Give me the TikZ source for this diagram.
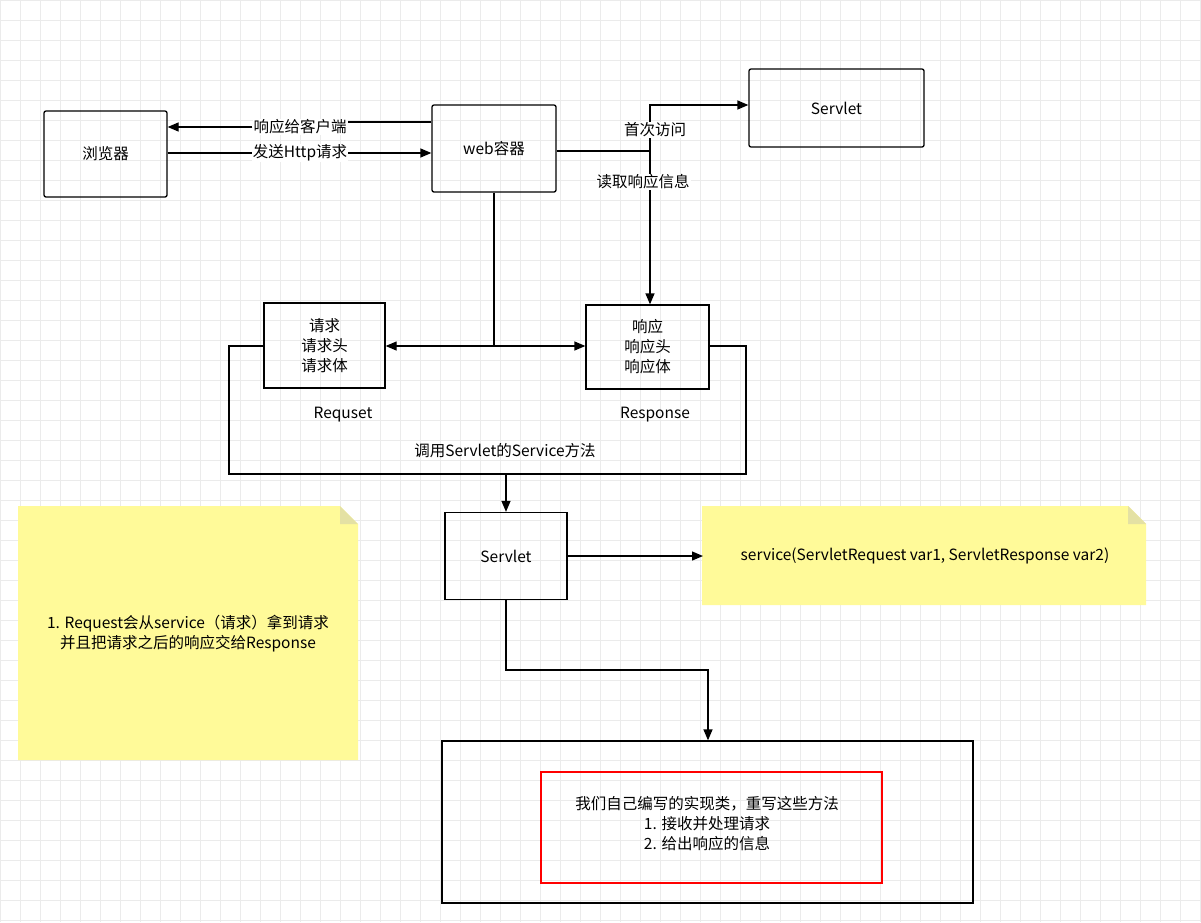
\documentclass[tikz,border=0pt]{standalone}
\usepackage{fontspec}
\setmainfont{Noto Sans CJK SC}
\usetikzlibrary{arrows.meta}
\begin{document}
\begin{tikzpicture}[x=1pt,y=-1pt,font=\fontsize{15.5}{20}\selectfont,
  box/.style={draw,line width=1.3pt,rounded corners=2pt,align=center,inner sep=0},
  link/.style={line width=1.3pt,-{Triangle[length=11pt,width=9pt]}},
  line/.style={line width=1.3pt},
  lbl/.style={fill=white,inner sep=1pt},
  note/.style={fill=yellow!40,draw=none}]
	\useasboundingbox (0,0) rectangle (1201,922);
	\fill[white] (0,0) rectangle (1201,922);
	\foreach \gx in {0,20,...,1200} \draw[black!8] (\gx,0) -- (\gx,922);
	\foreach \gy in {0,20,...,920} \draw[black!8] (0,\gy) -- (1201,\gy);

	% boxes
	\node[box,minimum width=123,minimum height=86] (browser) at (105.5,154) {浏览器};
	\node[box,minimum width=124,minimum height=87] (web) at (494,148.5) {web容器};
	\node[box,minimum width=175,minimum height=78] (servletTop) at (836.5,108) {Servlet};
	\node[box,minimum width=121,minimum height=85,rounded corners=0] (req) at (324.5,345.5) {请求\\请求头\\请求体};
	\node[box,minimum width=123,minimum height=84,rounded corners=0] (resp) at (647.5,347) {响应\\响应头\\响应体};
	\node at (343,415) {Requset};
	\node at (655,415) {Response};
	\node[box,minimum width=122,minimum height=87,rounded corners=0] (servlet) at (506,556) {Servlet};
	\node[box,minimum width=531,minimum height=162,rounded corners=0] (impl) at (707.5,822) {};
	\draw[red,line width=1.5pt] (541,772) rectangle (882,883);
	\node[align=center] (implText) at (707,824) {我们自己编写的实现类，重写这些方法\\1. 接收并处理请求\\2. 给出响应的信息};

	% notes
	\fill[note] (702,506) -- (1128,506) -- (1146,524) -- (1146,605) -- (702,605) -- cycle;
	\fill[yellow!70!black!40] (1128,506) -- (1128,524) -- (1146,524) -- cycle;
	\node (svcNote) at (925,556) {service(ServletRequest var1, ServletResponse var2)};
	\fill[note] (18,506) -- (340,506) -- (358,524) -- (358,760) -- (18,760) -- cycle;
	\fill[yellow!70!black!40] (340,506) -- (340,524) -- (358,524) -- cycle;
	\node[align=center] at (188,634) {1. Request会从service（请求）拿到请求\\并且把请求之后的响应交给Response};

	% browser <-> web
	\node[lbl] (l1) at (300,127) {响应给客户端};
	\node[lbl] (l2) at (300,153) {发送Http请求};
	\draw[line] (web.west |- 0,122) -- (l1.east |- 0,122);
	\draw[link] (l1.west) -- (browser.east |- l1.west);
	\draw[line] (browser.east |- l2.west) -- (l2.west);
	\draw[link] (l2.east) -- (web.west |- l2.east);

	% web -> servlet / response
	\coordinate (j1) at (650,151);
	\draw[line] (web.east |- j1) -- (j1);
	\draw[link] (j1) -- (650,105) -- (servletTop.west |- 0,105);
	\draw[link] (j1) -- (resp.north -| j1);
	\node[lbl] at (655,130) {首次访问};
	\node[lbl] at (643,182) {读取响应信息};

	% web -> request / response
	\coordinate (j2) at (494,346);
	\draw[line] (web.south) -- (j2);
	\draw[link] (j2) -- (req.east |- j2);
	\draw[link] (j2) -- (resp.west |- j2);

	% loop to servlet
	\draw[line] (req.west |- j2) -- (229,346) -- (229,474) -- (746,474) -- (746,346) -- (resp.east |- j2);
	\node at (505,451) {调用Servlet的Service方法};
	\draw[link] (servlet.north |- 0,474) -- (servlet.north);
	\coordinate (noteIn) at (703,556);
	\draw[link] (servlet.east) -- (noteIn);
	\draw[link] (servlet.south) -- (506,670) -- (708,670) -- (impl.north -| 708,0);
\end{tikzpicture}
\end{document}
